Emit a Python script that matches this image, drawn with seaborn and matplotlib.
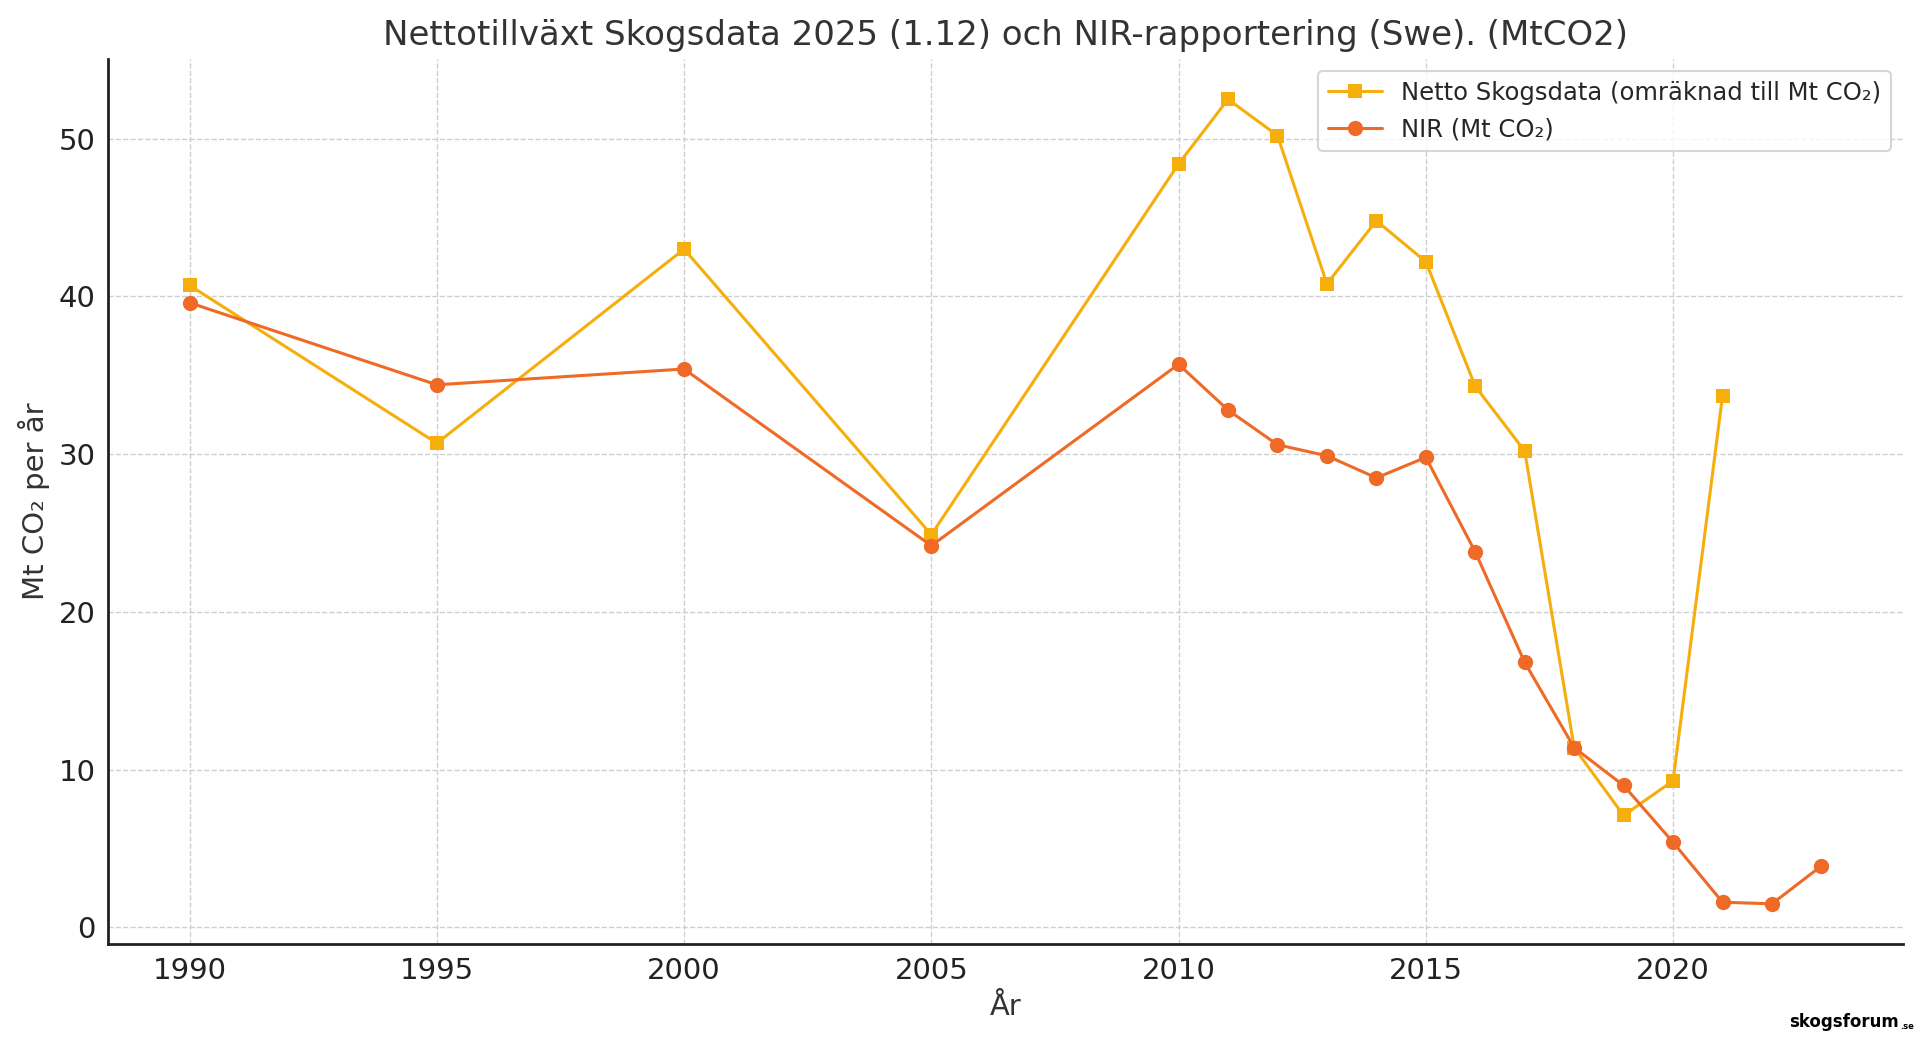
import numpy as np
import pandas as pd
import seaborn as sns
import matplotlib.pyplot as plt

# Skogsdata netto (converted to Mt CO2), years 1990..2021
skog_years = [1990, 1995, 2000, 2005, 2010, 2011, 2012, 2013, 2014, 2015,
              2016, 2017, 2018, 2019, 2020, 2021]
skog_values = [40.7, 30.7, 43.0, 24.9, 48.4, 52.5, 50.2, 40.8, 44.8, 42.2,
               34.3, 30.2, 11.4, 7.1, 9.3, 33.7]

# NIR reporting, years 1990..2023
nir_years = [1990, 1995, 2000, 2005, 2010, 2011, 2012, 2013, 2014, 2015,
             2016, 2017, 2018, 2019, 2020, 2021, 2022, 2023]
nir_values = [39.6, 34.4, 35.4, 24.2, 35.7, 32.8, 30.6, 29.9, 28.5, 29.8,
              23.8, 16.8, 11.4, 9.0, 5.4, 1.6, 1.5, 3.9]

skog_label = "Netto Skogsdata (omräknad till Mt CO₂)"
nir_label = "NIR (Mt CO₂)"
title = "Nettotillväxt Skogsdata 2025 (1.12) och NIR-rapportering (Swe). (MtCO2)"

skog = pd.DataFrame({"year": skog_years, "value": skog_values})
nir = pd.DataFrame({"year": nir_years, "value": nir_values})

sns.set_style("white")
plt.rcParams['font.family'] = ['DejaVu Sans']

YELLOW = "#F6AE0C"
ORANGE = "#EE6A26"

fig = plt.figure(figsize=(19.2, 10.39), dpi=100)
ax = fig.add_axes([0.05625, 0.0914, 0.9349, 0.8518])

sns.lineplot(data=skog, x="year", y="value", ax=ax, color=YELLOW, marker="s",
             markersize=10, markeredgewidth=0, linewidth=2.2, label=skog_label)
sns.lineplot(data=nir, x="year", y="value", ax=ax, color=ORANGE, marker="o",
             markersize=11, markeredgewidth=0, linewidth=2.2, label=nir_label)

ax.grid(True, linestyle="--", color="#cfcfcf", linewidth=1.0)
ax.set_axisbelow(True)
sns.despine(ax=ax)
for s in ["left", "bottom"]:
    ax.spines[s].set_color("#222222")
    ax.spines[s].set_linewidth(2.0)

ax.tick_params(direction="in", length=7, width=2, colors="#222222",
               labelsize=21, pad=9)
ax.set_xticks([1990, 1995, 2000, 2005, 2010, 2015, 2020])
ax.set_yticks([0, 10, 20, 30, 40, 50])

ax.set_title(title, fontsize=24.5, color="#333333", pad=10)
ax.set_xlabel("År", fontsize=21, color="#333333", labelpad=6)
ax.set_ylabel("Mt CO₂ per år", fontsize=21, color="#333333", labelpad=6)

leg = ax.legend(loc="upper right", fontsize=17.5, frameon=True, fancybox=True,
                borderaxespad=0.5, handlelength=2.2)
leg.get_frame().set_edgecolor("#cccccc")
leg.get_frame().set_linewidth(1.5)

# watermark bottom right
fig.text(0.989, 0.008, "skogsforum", fontsize=12, fontweight="bold",
         color="black", ha="right", va="bottom")
fig.text(0.9895, 0.008, ".se", fontsize=6, fontweight="bold",
         color="black", ha="left", va="bottom")

fig.savefig("out.png", dpi=100)
